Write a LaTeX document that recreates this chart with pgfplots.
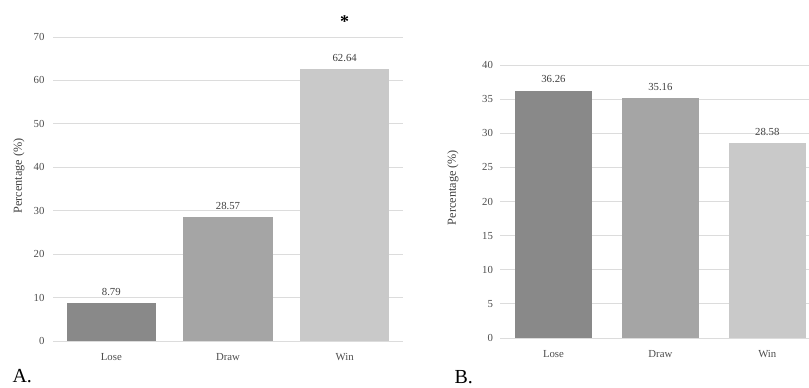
\documentclass[border=0pt]{standalone}
\usepackage{fontspec}
\setmainfont{Liberation Serif}
\usepackage{pgfplots}
\pgfplotsset{compat=1.18}
\definecolor{cLose}{HTML}{898989}
\definecolor{cDraw}{HTML}{A5A5A5}
\definecolor{cWin}{HTML}{C9C9C9}
\definecolor{gridc}{HTML}{DCDCDC}
\pgfplotsset{
  panel/.style={
    scale only axis,
    axis line style={draw=none},
    ymajorgrids, grid style={gridc, line width=0.8pt},
    major tick length=0pt,
    xmin=-0.5,
    xtick={0,1,2}, xticklabels={Lose,Draw,Win},
    ybar, bar shift=0pt,
    ymin=0,
    /pgf/number format/assume math mode=true,
    tick label style={font=\fontsize{10.8}{12}\selectfont, text=black!70},
    xticklabel style={yshift=-8.5bp},
    ylabel={Percentage (\%)},
    ylabel style={font=\fontsize{12.3}{14}\selectfont, anchor=center, text=black!75},
    nodes near coords={\pgfmathprintnumber[fixed,fixed zerofill,precision=2]{\pgfplotspointmeta}},
    every node near coord/.append style={font=\fontsize{10.8}{12}\selectfont, yshift=4bp, text=black!75},
    clip=false,
  }
}
\begin{document}
\begin{tikzpicture}
\useasboundingbox (0,0) rectangle (809bp,388bp);
% Panel A
\begin{axis}[panel,
  at={(53bp,47bp)}, anchor=south west,
  width=350bp, height=304bp,
  xmax=2.5, ymax=70, ytick={0,10,...,70},
  bar width=0.767,
  yticklabel style={xshift=-5bp},
  ylabel style={at={(axis description cs:-0.097,0.543)}},
]
\addplot[fill=cLose, draw=none] coordinates {(0,8.79)};
\addplot[fill=cDraw, draw=none] coordinates {(1,28.57)};
\addplot[fill=cWin, draw=none] coordinates {(2,62.64)};
\node[font=\fontsize{18}{20}\selectfont\bfseries] at (axis cs:2,73.6) {*};
\end{axis}
\node[font=\fontsize{20}{22}\selectfont, anchor=base west] at (9bp,6bp) {A.};
% Panel B
\begin{axis}[panel,
  at={(500bp,50bp)}, anchor=south west,
  width=309bp, height=273bp,
  xmax=2.39, ymax=40, ytick={0,5,...,40},
  bar width=0.715,
  yticklabel style={xshift=-3.5bp},
  ylabel style={at={(axis description cs:-0.152,0.551)}},
]
\addplot[fill=cLose, draw=none] coordinates {(0,36.26)};
\addplot[fill=cDraw, draw=none] coordinates {(1,35.16)};
\addplot[fill=cWin, draw=none] coordinates {(2,28.58)};
\end{axis}
\node[font=\fontsize{20}{22}\selectfont, anchor=base west] at (451bp,5bp) {B.};
\end{tikzpicture}
\end{document}
